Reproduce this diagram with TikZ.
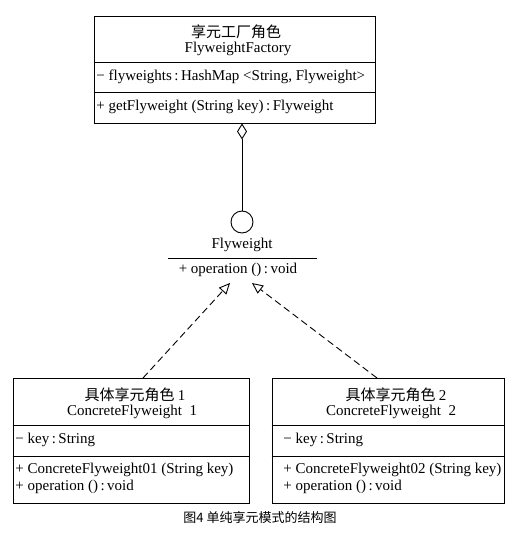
\documentclass[tikz,border=0pt]{standalone}
\usepackage{fontspec}
\setmainfont{Liberation Serif}
\newfontfamily\cjk{Noto Sans CJK SC}
\usetikzlibrary{arrows.meta}
\begin{document}
\begin{tikzpicture}[x=1pt,y=-1pt, line width=0.9pt,
  every node/.style={inner sep=0pt, font=\fontsize{15}{17}\selectfont},
  classbox/.style={draw, line width=0.9pt},
  lbl/.style={anchor=west},
  realize/.style={dashed, dash pattern=on 7pt off 4pt, -{Triangle[open,length=11pt,width=10pt]}},
  aggr/.style={-{Diamond[open,length=16pt,width=10pt]}}]
\useasboundingbox (0,0) rectangle (513,538);

% Flyweight factory
\node[classbox, minimum width=281pt, minimum height=107pt] (factory) at (234.5,69.5) {};
\draw (factory.west |- 0,62) -- (factory.east |- 0,62);
\draw (factory.west |- 0,92) -- (factory.east |- 0,92);
\node (ftitle) at (236,32) {\cjk 享元工厂角色};
\node (fname) at (238,49) {FlyweightFactory};
\node[lbl] (fattr) at (96,77) {− flyweights\,:\,HashMap <String, Flyweight>};
\node[lbl] (fop) at (96,107) {+ getFlyweight (String key)\,:\,Flyweight};

% Flyweight interface
\node[draw, circle, minimum size=22pt] (iface) at (242,222) {};
\node (iname) at (242,245) {Flyweight};
\coordinate (il) at (168,258);
\coordinate (ir) at (317,258);
\draw (il) -- (ir);
\node (iop) at (238,270) {+ operation ()\,:\,void};
\draw[aggr] (iface.north) -- (iface.north |- factory.south);

% Concrete flyweight 1
\node[classbox, minimum width=236pt, minimum height=125pt] (cf1) at (131,440.5) {};
\draw (cf1.west |- 0,425) -- (cf1.east |- 0,425);
\draw (cf1.west |- 0,456) -- (cf1.east |- 0,456);
\node (c1title) at (135,395) {\cjk 具体享元角色 \rmfamily 1};
\node (c1name) at (132,412) {ConcreteFlyweight\ \ 1};
\node[lbl] (c1attr) at (15,440) {− key\,:\,String};
\node[lbl] (c1op1) at (15,470) {+ ConcreteFlyweight01 (String key)};
\node[lbl] (c1op2) at (15,487) {+ operation ()\,:\,void};

% Concrete flyweight 2
\node[classbox, minimum width=232pt, minimum height=125pt] (cf2) at (388,440.5) {};
\draw (cf2.west |- 0,425) -- (cf2.east |- 0,425);
\draw (cf2.west |- 0,456) -- (cf2.east |- 0,456);
\node (c2title) at (396,395) {\cjk 具体享元角色 \rmfamily 2};
\node (c2name) at (391,412) {ConcreteFlyweight\ \ 2};
\node[lbl] (c2attr) at (283,440) {− key\,:\,String};
\node[lbl] (c2op1) at (283,470) {+ ConcreteFlyweight02 (String key)};
\node[lbl] (c2op2) at (283,487) {+ operation ()\,:\,void};

% realizations
\coordinate (s1) at (143,378);
\coordinate (t1) at (230,283);
\coordinate (s2) at (377,378);
\coordinate (t2) at (252,283);
\draw[realize] (s1) -- (t1);
\draw[realize] (s2) -- (t2);

% caption
\node[font=\cjk\fontsize{13}{15}\selectfont] (cap) at (260,518) {图4 单纯享元模式的结构图};
\end{tikzpicture}
\end{document}
